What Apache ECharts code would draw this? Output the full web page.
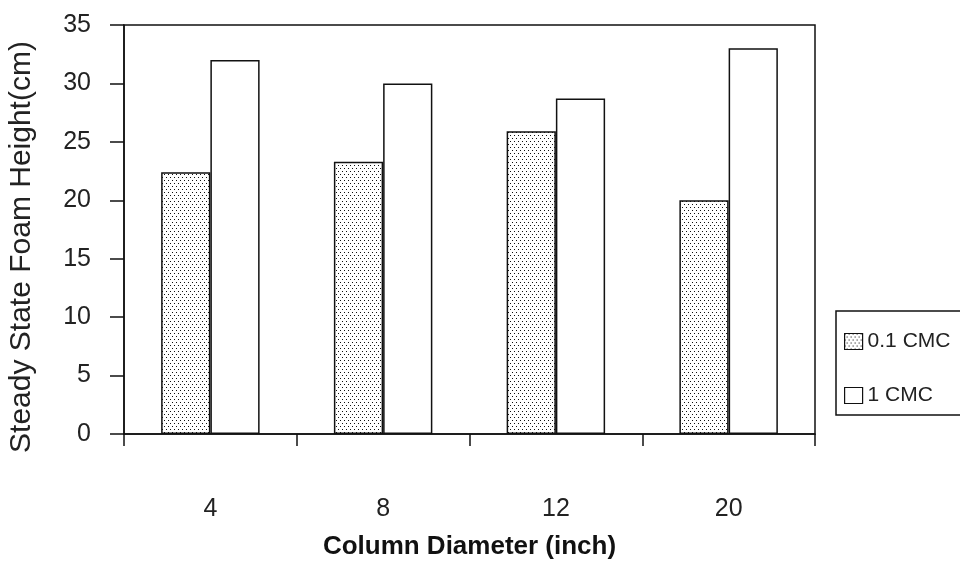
<!DOCTYPE html>
<html>
<head>
<meta charset="utf-8">
<title>Steady State Foam Height</title>
<script src="https://cdn.jsdelivr.net/npm/echarts@6/dist/echarts.min.js"></script>
<style>
  html, body { margin: 0; padding: 0; background: #fff; }
  #chart { width: 960px; height: 565px; }
</style>
</head>
<body>
<div id="chart"></div>
<script>
// Column diameters (inch) and steady state foam heights (cm)
const categories = ['4', '8', '12', '20'];
const seriesNames = ['0.1 CMC', '1 CMC'];
const heightLowCMC = [22.4, 23.3, 25.9, 20.0];
const heightHighCMC = [32.0, 30.0, 28.7, 33.0];
const yMin = 0, yMax = 35, yStep = 5;

const FONT = "'Liberation Sans', Arial, sans-serif";
const INK = '#111';

// small stippled tile used as the fill of the 0.1 CMC bars
function dotTile() {
  const c = document.createElement('canvas');
  c.width = 4; c.height = 6;
  const g = c.getContext('2d');
  g.fillStyle = '#fff';
  g.fillRect(0, 0, 4, 6);
  g.fillStyle = '#111';
  g.fillRect(0, 0, 1, 1);
  g.fillRect(2, 3, 1, 1);
  return c;
}

const chart = echarts.init(document.getElementById('chart'), null, { renderer: 'canvas' });

chart.setOption({
  backgroundColor: '#fff',
  animation: false,
  textStyle: { fontFamily: FONT },
  grid: {
    left: 124, right: 145, top: 25, bottom: 129,
    show: true, borderColor: INK, borderWidth: 1.5, backgroundColor: 'transparent'
  },
  legend: {
    orient: 'vertical',
    left: 836, top: 311,
    padding: [20, 16, 9, 8],
    itemGap: 33,
    itemWidth: 18, itemHeight: 16,
    itemStyle: { borderColor: INK, borderWidth: 1.2 },
    textStyle: { fontFamily: FONT, fontSize: 21, color: '#222', lineHeight: 20 },
    borderColor: INK, borderWidth: 1.5,
    backgroundColor: '#fff',
    icon: 'rect',
    data: seriesNames
  },
  xAxis: {
    type: 'category',
    data: categories,
    name: 'Column Diameter (inch)',
    nameLocation: 'middle',
    nameGap: 100,
    nameTextStyle: { fontFamily: FONT, fontSize: 26, fontWeight: 'bold', color: '#111' },
    axisLine: { lineStyle: { color: INK, width: 1.5 } },
    axisTick: { show: true, length: 12, lineStyle: { color: INK, width: 1.5 } },
    axisLabel: { margin: 63, fontSize: 25, color: '#222', fontFamily: FONT },
    splitLine: { show: false }
  },
  yAxis: {
    type: 'value',
    min: yMin, max: yMax, interval: yStep,
    axisLine: { show: true, lineStyle: { color: INK, width: 1.5 } },
    axisTick: { show: true, length: 14, lineStyle: { color: INK, width: 1.5 } },
    axisLabel: { margin: 33, fontSize: 25, color: '#222', fontFamily: FONT },
    splitLine: { show: false }
  },
  graphic: [{
    type: 'text',
    x: 22, y: 247,
    rotation: Math.PI / 2,
    style: {
      text: 'Steady State Foam Height(cm)',
      fontFamily: FONT, fontSize: 30, fill: '#222',
      align: 'center', verticalAlign: 'middle'
    }
  }],
  series: [
    {
      name: seriesNames[0],
      type: 'bar',
      data: heightLowCMC,
      barGap: '0%',
      barCategoryGap: '43%',
      itemStyle: {
        color: { image: dotTile(), repeat: 'repeat' },
        borderColor: INK, borderWidth: 1.5
      }
    },
    {
      name: seriesNames[1],
      type: 'bar',
      data: heightHighCMC,
      barGap: '0%',
      barCategoryGap: '43%',
      itemStyle: { color: '#fff', borderColor: INK, borderWidth: 1.5 }
    }
  ]
});
</script>
</body>
</html>
